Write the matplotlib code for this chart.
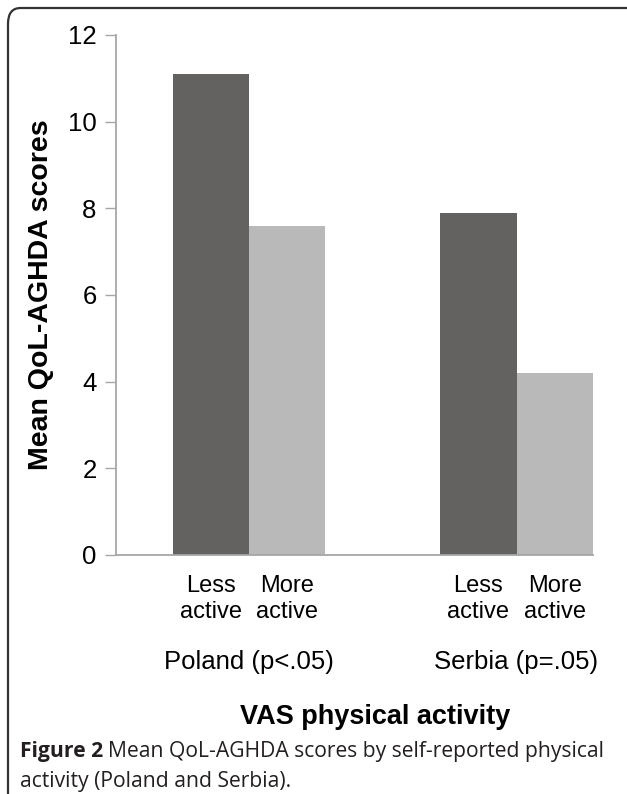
import matplotlib.pyplot as plt
from matplotlib.patches import FancyBboxPatch

# data
countries = ['Poland (p<.05)', 'Serbia (p=.05)']
activity = ['Less\nactive', 'More\nactive']
less_active = [11.1, 7.9]
more_active = [7.6, 4.2]
yticks = [0, 2, 4, 6, 8, 10, 12]

dark = '#646260'
light = '#bab9b9'
axis_grey = '#a6a6a6'

W, H = 627, 794
fig = plt.figure(figsize=(W / 100, H / 100), dpi=100)

# rounded frame around the figure (open at right/bottom, as in the scan)
frame = FancyBboxPatch((8 / W, -0.2), 1.2, 1.2 - 8 / H,
                       boxstyle='round,pad=0,rounding_size=0.02',
                       transform=fig.transFigure, fill=False,
                       edgecolor='#333333', linewidth=1.6)
fig.patches.append(frame)

ax = fig.add_axes([116 / W, 1 - 555 / H, 477 / W, 520 / H])

group_pos = [0, 3.5]
for i, g in enumerate(group_pos):
    ax.bar(g, less_active[i], width=1, color=dark, edgecolor='none')
    ax.bar(g + 1, more_active[i], width=1, color=light, edgecolor='none')

ax.set_xlim(-1.24, 5.0)
ax.set_ylim(0, 12)
ax.set_yticks(yticks)
ax.set_yticklabels([str(t) for t in yticks], fontsize=18.5,
                   family='Liberation Sans')
ax.tick_params(axis='y', direction='out', length=8, width=1,
               color=axis_grey, pad=6)
ax.tick_params(axis='x', length=0)
ax.set_xticks([])

for s in ['top', 'right']:
    ax.spines[s].set_visible(False)
for s in ['left', 'bottom']:
    ax.spines[s].set_color(axis_grey)
    ax.spines[s].set_linewidth(1.3)

# category and group labels
for i, g in enumerate(group_pos):
    for j in range(2):
        ax.text(g + j, -0.45, activity[j], ha='center', va='top',
                fontsize=17, family='Liberation Sans', linespacing=1.25,
                clip_on=False)
    ax.text(g + 0.5, -2.2, countries[i], ha='center', va='top',
            fontsize=18.5, family='Liberation Sans', clip_on=False)

ax.set_ylabel('Mean QoL-AGHDA scores', fontsize=20.5, fontweight='bold',
              family='Liberation Sans', labelpad=10)

fig.text(375 / W, 1 - 717 / H, 'VAS physical activity', ha='center',
         va='center', fontsize=19.5, fontweight='bold',
         family='Liberation Sans')

# caption below the chart
cap_font = 'Open Sans'
t1 = fig.text(20 / W, 1 - 752 / H, 'Figure 2', ha='left', va='center',
              fontsize=15.2, fontweight='bold', family=cap_font,
              color='#231f20')
fig.canvas.draw()
bb = t1.get_window_extent()
fig.text((bb.x1 + 5) / W, 1 - 752 / H,
         'Mean QoL-AGHDA scores by self-reported physical',
         ha='left', va='center', fontsize=15.2, family=cap_font,
         color='#231f20')
fig.text(20 / W, 1 - 781 / H, 'activity (Poland and Serbia).',
         ha='left', va='center', fontsize=15.2, family=cap_font,
         color='#231f20')

fig.savefig('out.png', dpi=100)
